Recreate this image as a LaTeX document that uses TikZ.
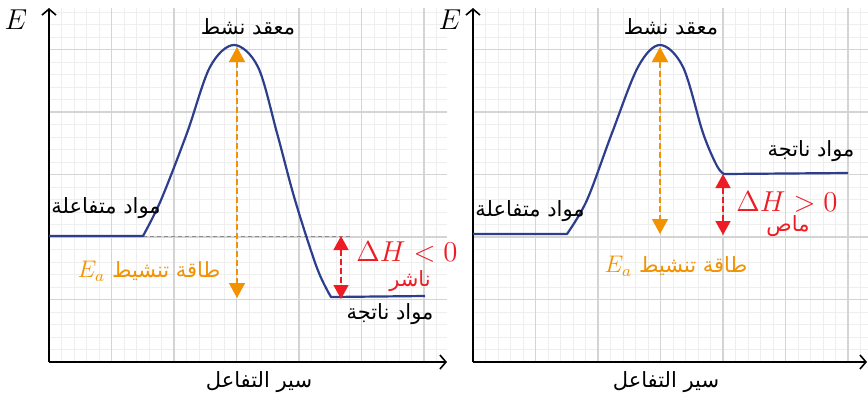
\documentclass[tikz,border=0pt]{standalone}
\usepackage{fontspec}
\usetikzlibrary{arrows.meta}
\newfontfamily\arabicfont[Script=Arabic]{DejaVu Sans}
\TeXXeTstate=1
\definecolor{curveblue}{RGB}{44,62,140}
\definecolor{eaorange}{RGB}{243,146,0}
\definecolor{dhred}{RGB}{237,28,36}
\definecolor{majorgrid}{RGB}{212,212,212}
\definecolor{minorgrid}{RGB}{238,238,238}
\definecolor{refgrey}{RGB}{140,140,140}
\newcommand{\artext}[1]{{\arabicfont\beginR #1\endR}}
\begin{document}
\begin{tikzpicture}[x=0.5pt,y=-0.5pt,
  minorline/.style={draw=minorgrid,line width=0.4pt},
  majorline/.style={draw=majorgrid,line width=0.6pt},
  axisline/.style={draw=black,line width=0.8pt,-{Straight Barb[length=3pt,width=7pt]}},
  curve/.style={draw=curveblue,line width=1.1pt,line join=round},
  refline/.style={draw=refgrey,line width=0.4pt,dash pattern=on 2pt off 1.5pt},
  eaarrow/.style={draw=eaorange,line width=0.7pt,dash pattern=on 3pt off 1.5pt,
     {Triangle[width=8pt,length=7.5pt]}-{Triangle[width=8pt,length=7.5pt]}},
  dharrow/.style={draw=dhred,fill=dhred,line width=0.7pt,dash pattern=on 3pt off 1.5pt,
     {Triangle[width=7.5pt,length=7pt]}-{Triangle[width=7.5pt,length=7pt]}},
  artxt/.style={inner sep=0pt,font=\fontsize{10.5}{12}\selectfont},
  mathlbl/.style={inner sep=0pt},
]
\useasboundingbox (0,0) rectangle (868,398);
\fill[white] (0,0) rectangle (868,398);

% ---------- left panel grid ----------
\foreach \i in {1,...,31} { \draw[minorline] ({49+12.5*\i},8) -- ({49+12.5*\i},362); }
\foreach \j in {1,...,28} { \draw[minorline] (49,{362-12.5*\j}) -- (447,{362-12.5*\j}); }
\foreach \i in {1,...,6} { \draw[majorline] ({49+62.5*\i},8) -- ({49+62.5*\i},362); }
\foreach \j in {1,...,5} { \draw[majorline] (49,{362-62.5*\j}) -- (447,{362-62.5*\j}); }

% ---------- right panel grid ----------
\foreach \i in {1,...,31} { \draw[minorline] ({473+12.5*\i},8) -- ({473+12.5*\i},362); }
\foreach \j in {1,...,28} { \draw[minorline] (473,{362-12.5*\j}) -- (868,{362-12.5*\j}); }
\foreach \i in {1,...,6} { \draw[majorline] ({473+62.5*\i},8) -- ({473+62.5*\i},362); }
\foreach \j in {1,...,5} { \draw[majorline] (473,{362-62.5*\j}) -- (868,{362-62.5*\j}); }

% ---------- axes ----------
\coordinate (oL) at (49,362);
\coordinate (yL) at (49,8);
\coordinate (xL) at (447,362);
\coordinate (oR) at (473,362);
\coordinate (yR) at (473,8);
\coordinate (xR) at (867,362);
\draw[axisline] (oL) -- (yL);
\draw[axisline] (oL) -- (xL);
\draw[axisline] (oR) -- (yR);
\draw[axisline] (oR) -- (xR);

% ---------- left curve (exothermic) ----------
\draw[refline] (143,236) -- (353,236);
\draw[curve] (49,236) -- (143,236) -- plot[smooth,tension=0.55] coordinates
  {(143,236) (161,200) (187,133) (210,67) (234,45) (258,67) (277,133) (295,200) (317,268) (331,297)}
  -- (425,296);

% ---------- right curve (endothermic) ----------
\draw[curve] (473,234) -- (567,234) -- plot[smooth,tension=0.55] coordinates
  {(567,234) (587,200) (612,133) (638,67) (660,45) (683,67) (703,133) (717,166) (724,174)}
  -- (848,173);

% ---------- arrows ----------
\coordinate (eaLtop) at (237,47);
\coordinate (eaLbot) at (237,298);
\draw[eaarrow] (eaLtop) -- (eaLbot);
\coordinate (dhLtop) at (341,236);
\coordinate (dhLbot) at (341,299);
\draw[dharrow] (dhLtop) -- (dhLbot);

\coordinate (eaRtop) at (660,47);
\coordinate (eaRbot) at (660,234);
\draw[eaarrow] (eaRtop) -- (eaRbot);
\coordinate (dhRtop) at (723,174);
\coordinate (dhRbot) at (723,235);
\draw[dharrow] (dhRtop) -- (dhRbot);

% ---------- left labels ----------
\node[mathlbl,font=\fontsize{13.3}{15}\selectfont] (EL) at (16,20) {$E$};
\node[artxt] (tsL) at (248,27) {\artext{معقد نشط}};
\node[artxt] (reL) at (106,208) {\artext{مواد متفاعلة}};
\node[artxt,text=eaorange] (eaL) at (149,271) {{\fontsize{12}{13}\selectfont$E_a$}\ \artext{طاقة تنشيط}};
\node[mathlbl,text=dhred,font=\fontsize{13.5}{15}\selectfont] (dhL) at (407,252) {$\Delta H<0$};
\node[artxt,text=dhred] (exL) at (410,281) {\artext{ناشر}};
\node[artxt] (prL) at (390,314) {\artext{مواد ناتجة}};
\node[artxt] (rcL) at (259,382) {\artext{سير التفاعل}};

% ---------- right labels ----------
\node[mathlbl,font=\fontsize{13.3}{15}\selectfont] (ER) at (450,20) {$E$};
\node[artxt] (tsR) at (671,27) {\artext{معقد نشط}};
\node[artxt] (prR) at (811,151) {\artext{مواد ناتجة}};
\node[artxt] (reR) at (530,211) {\artext{مواد متفاعلة}};
\node[mathlbl,text=dhred,font=\fontsize{13.5}{15}\selectfont] (dhR) at (787,202) {$\Delta H>0$};
\node[artxt,text=dhred] (enR) at (788,226) {\artext{ماص}};
\node[artxt,text=eaorange] (eaR) at (676,266) {{\fontsize{12}{13}\selectfont$E_a$}\ \artext{طاقة تنشيط}};
\node[artxt] (rcR) at (666,382) {\artext{سير التفاعل}};
\end{tikzpicture}
\end{document}
